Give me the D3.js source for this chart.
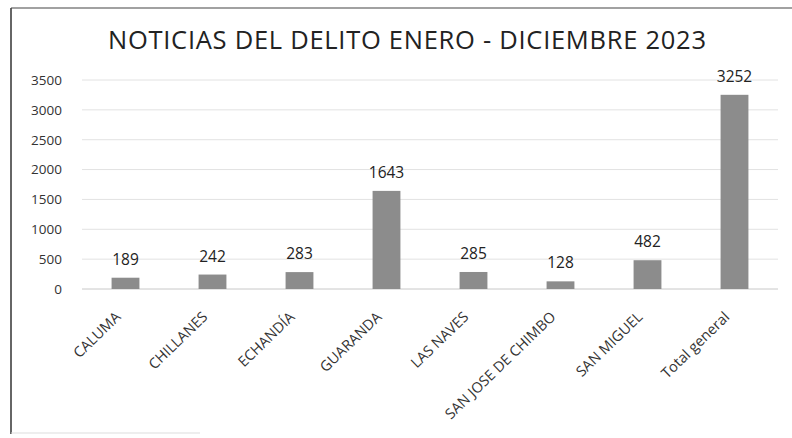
<!DOCTYPE html>
<html>
<head>
<meta charset="utf-8">
<script src="https://cdn.jsdelivr.net/npm/d3@7"></script>
<style>
  body { margin: 0; background: #fff; }
  svg { font-family: "Open Sans", "DejaVu Sans", sans-serif; }
</style>
</head>
<body>
<div id="chart"></div>
<script>
// data
var categories = ["CALUMA", "CHILLANES", "ECHANDÍA", "GUARANDA", "LAS NAVES", "SAN JOSE DE CHIMBO", "SAN MIGUEL", "Total general"];
var values = [189, 242, 283, 1643, 285, 128, 482, 3252];
var yTicks = [0, 500, 1000, 1500, 2000, 2500, 3000, 3500];
var title = "NOTICIAS DEL DELITO ENERO - DICIEMBRE 2023";

var width = 792, height = 438;
var margin = {top: 80, right: 14, bottom: 149, left: 82};

var svg = d3.select("#chart").append("svg")
    .attr("width", width)
    .attr("height", height);

// chart frame (scanned page: left and top edges only show clearly)
svg.append("line")
    .attr("x1", 11).attr("y1", 8).attr("x2", 11).attr("y2", 434)
    .attr("stroke", "#333").attr("stroke-width", 1.5);
svg.append("line")
    .attr("x1", 11).attr("y1", 8).attr("x2", 792).attr("y2", 8)
    .attr("stroke", "#444").attr("stroke-width", 1.2);
svg.append("line")
    .attr("x1", 11).attr("y1", 433).attr("x2", 200).attr("y2", 433)
    .attr("stroke", "#ddd").attr("stroke-width", 1);

var x = d3.scaleBand()
    .domain(categories)
    .range([margin.left, width - margin.right])
    .paddingInner(0.68)
    .paddingOuter(0.34);

var y = d3.scaleLinear()
    .domain([0, 3500])
    .range([height - margin.bottom, margin.top]);

// gridlines
svg.append("g").selectAll("line").data(yTicks)
    .enter().append("line")
    .attr("x1", margin.left)
    .attr("x2", width - margin.right)
    .attr("y1", function(d){ return y(d); })
    .attr("y2", function(d){ return y(d); })
    .attr("stroke", function(d){ return d == 0 ? "#c8c8c8" : "#e2e2e2"; })
    .attr("stroke-width", 1);

// y axis labels
var yAxis = d3.axisLeft(y).tickValues(yTicks).tickFormat(d3.format("d")).tickSize(0).tickPadding(20);
svg.append("g")
    .attr("transform", "translate(" + margin.left + ",0)")
    .call(yAxis)
    .call(function(g){ g.select(".domain").remove(); })
    .selectAll("text")
    .attr("font-size", "13.5px")
    .attr("fill", "#333")
    .attr("font-family", "Open Sans, sans-serif");

// bars
svg.append("g").selectAll("rect").data(values)
    .enter().append("rect")
    .attr("x", function(d, i){ return x(categories[i]); })
    .attr("y", function(d){ return y(d); })
    .attr("width", x.bandwidth())
    .attr("height", function(d){ return y(0) - y(d); })
    .attr("fill", "#8c8c8c");

// value labels
svg.append("g").selectAll("text").data(values)
    .enter().append("text")
    .attr("x", function(d, i){ return x(categories[i]) + x.bandwidth() / 2; })
    .attr("y", function(d){ return y(d) - 13; })
    .attr("text-anchor", "middle")
    .attr("font-size", "15.5px")
    .attr("fill", "#222")
    .text(function(d){ return d; });

// x axis labels, rotated
var xAxis = d3.axisBottom(x).tickSize(0).tickPadding(0);
svg.append("g")
    .attr("transform", "translate(0," + y(0) + ")")
    .call(xAxis)
    .call(function(g){ g.select(".domain").remove(); })
    .selectAll("text")
    .attr("font-size", "14.5px")
    .attr("fill", "#333")
    .attr("font-family", "Open Sans, sans-serif")
    .attr("text-anchor", "end")
    .attr("dy", "0")
    .attr("transform", "translate(-4,29) rotate(-44)");

// title
svg.append("text")
    .attr("x", 407)
    .attr("y", 49)
    .attr("text-anchor", "middle")
    .attr("font-size", "25.5px")
    .attr("fill", "#222")
    .attr("textLength", 598)
    .attr("lengthAdjust", "spacing")
    .text(title);
</script>
</body>
</html>
